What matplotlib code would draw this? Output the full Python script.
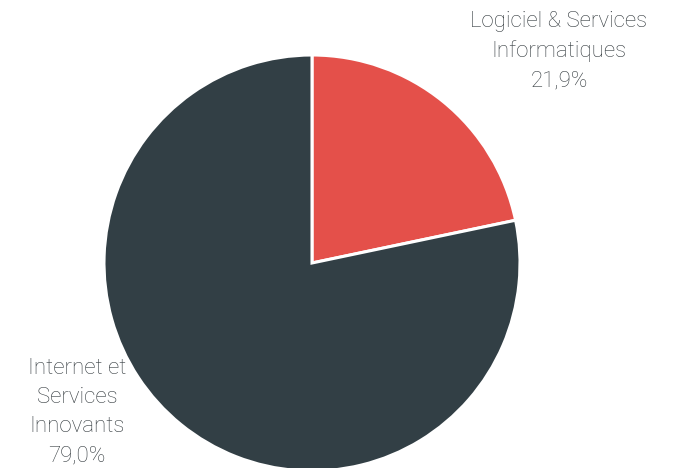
import matplotlib.pyplot as plt

labels = ['Logiciel & Services\nInformatiques\n21,9%', 'Internet et\nServices\nInnovants\n79,0%']
values = [21.9, 79.0]
colors = ['#E4504A', '#323F45']

W, H = 684, 468


def main():
    fig = plt.figure(figsize=(W / 100, H / 100), dpi=100)
    ax = fig.add_axes([0, 0, 1, 1])
    ax.pie(values, colors=colors, startangle=90, counterclock=False,
           center=(312, 205), radius=208,
           wedgeprops=dict(edgecolor='white', linewidth=2.2))
    ax.set_xlim(0, W)
    ax.set_ylim(0, H)
    ax.set_aspect('equal')
    ax.axis('off')

    txt = dict(ha='center', va='center', fontsize=16, color='#353C40',
               family='Roboto', weight='light', linespacing=1.52)
    ax.text(559, H - 51, labels[0], **txt)
    ax.text(77, H - 412, labels[1], **txt)

    fig.savefig('out.png', dpi=100)


if __name__ == '__main__': main()
